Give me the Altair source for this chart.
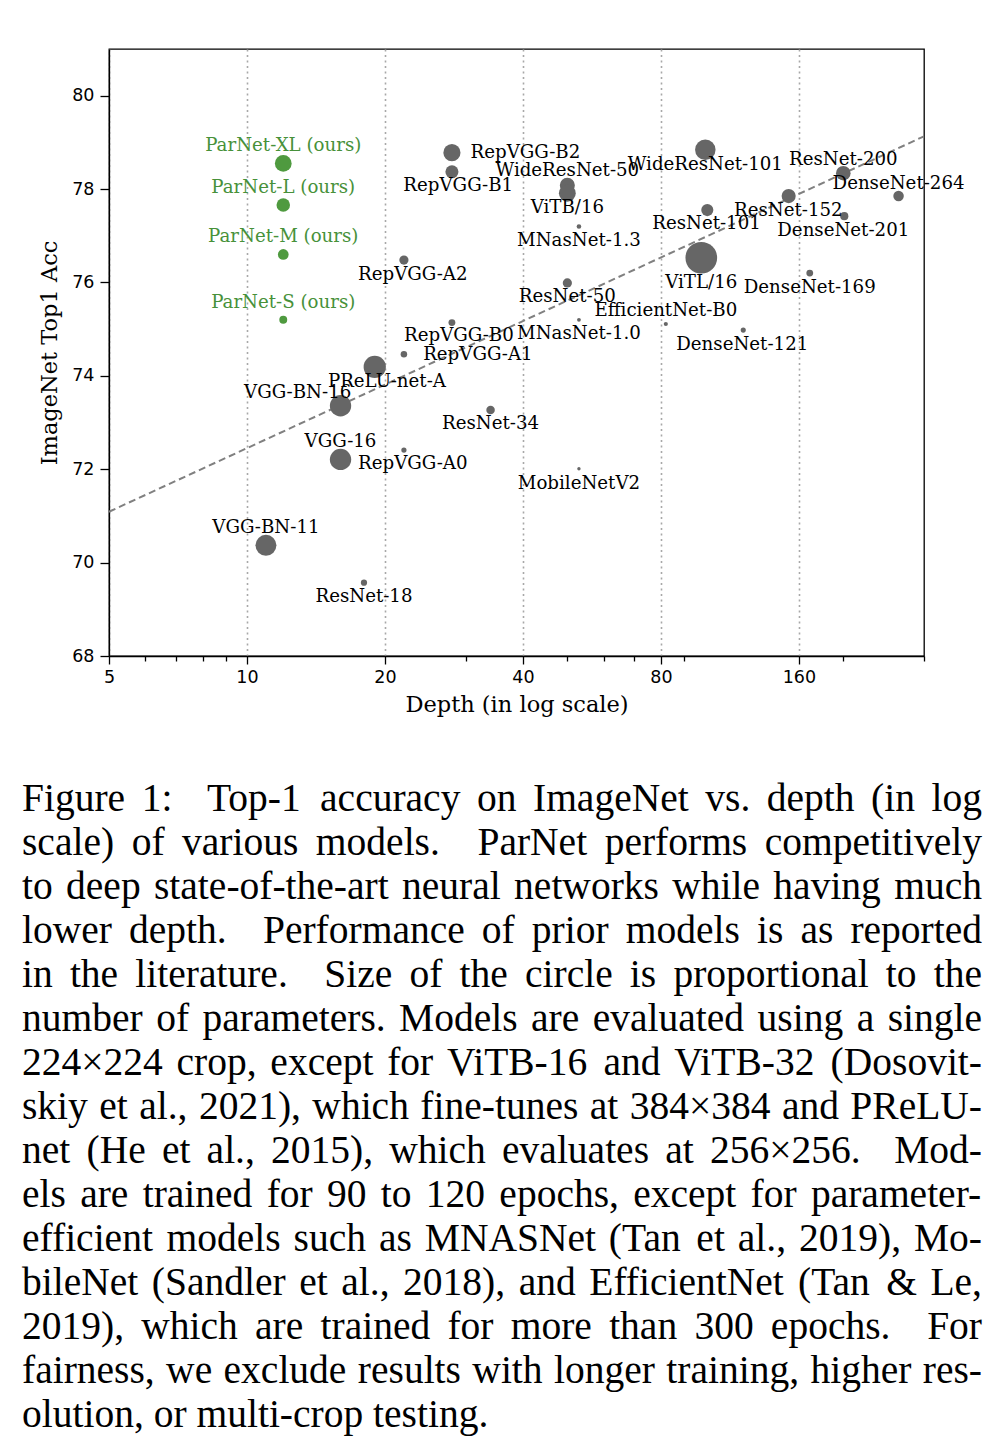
import re
import altair as alt
import pandas as pd

# ---------------- data ----------------
names = ["ParNet-XL (ours)", "ParNet-L (ours)", "ParNet-M (ours)", "ParNet-S (ours)",
         "RepVGG-B2", "RepVGG-B1", "RepVGG-A2", "RepVGG-B0", "RepVGG-A1", "RepVGG-A0",
         "PReLU-net-A", "VGG-BN-16", "VGG-16", "VGG-BN-11",
         "ResNet-18", "ResNet-34", "ResNet-50", "ResNet-101", "ResNet-152", "ResNet-200",
         "WideResNet-50", "WideResNet-101", "ViTB/16", "ViTL/16",
         "MNasNet-1.3", "MNasNet-1.0", "MobileNetV2", "EfficientNet-B0",
         "DenseNet-121", "DenseNet-169", "DenseNet-201", "DenseNet-264"]
depth = [12, 12, 12, 12,
         28, 28, 22, 28, 22, 22,
         19, 16, 16, 11,
         18, 34, 50, 101, 152, 200,
         50, 100, 50, 98,
         53, 53, 53, 82,
         121, 169, 201, 264]
acc = [78.55, 77.66, 76.60, 75.20,
       78.78, 78.37, 76.48, 75.14, 74.46, 72.41,
       74.19, 73.36, 72.21, 70.37,
       69.57, 73.27, 75.99, 77.55, 77.85, 78.34,
       78.08, 78.84, 77.91, 76.53,
       77.20, 75.20, 72.01, 75.11,
       74.98, 76.20, 77.42, 77.85]
params_m = [85, 55, 35, 19,
            89, 51.8, 25.5, 14.3, 12.8, 8.3,
            150, 138, 138, 133,
            11.7, 21.8, 25.6, 44.5, 60.2, 64.7,
            68.9, 126.9, 86, 304,
            6.3, 4.4, 3.5, 5.3,
            8.0, 14.1, 20.0, 33.3]
group = ["ours"] * 4 + ["prior"] * 28
label_depth = [12, 12, 12, 12,
               40.5, 28.9, 23.0, 29.0, 31.9, 23.0,
               20.2, 12.9, 16.0, 11.0,
               18.0, 34.0, 50.0, 100.6, 151.7, 200,
               50.0, 100, 50.0, 98,
               53, 53, 53, 82,
               120.4, 169, 200, 264]
label_acc = [78.92, 78.02, 76.97, 75.56,
             78.77, 78.06, 76.17, 74.85, 74.44, 72.11,
             73.87, 73.64, 72.59, 70.75,
             69.27, 72.96, 75.69, 77.25, 77.53, 78.62,
             78.38, 78.52, 77.60, 75.98,
             76.88, 74.89, 71.69, 75.39,
             74.67, 75.88, 77.10, 78.10]

trend_depth = [5, 300]
trend_acc = [71.09, 79.13]

major_ticks = [5, 10, 20, 40, 80, 160]
minor_ticks = [6, 7, 8, 9, 30, 50, 60, 70, 90, 200, 300]
y_ticks = [68, 70, 72, 74, 76, 78, 80]

# double spaces mark sentence-end gaps
caption_lines = [
    "Figure 1:  Top-1 accuracy on ImageNet vs. depth (in log",
    "scale) of various models.  ParNet performs competitively",
    "to deep state-of-the-art neural networks while having much",
    "lower depth.  Performance of prior models is as reported",
    "in the literature.  Size of the circle is proportional to the",
    "number of parameters. Models are evaluated using a single",
    "224\u00d7224 crop, except for ViTB-16 and ViTB-32 (Dosovit-",
    "skiy et al., 2021), which fine-tunes at 384\u00d7384 and PReLU-",
    "net (He et al., 2015), which evaluates at 256\u00d7256.  Mod-",
    "els are trained for 90 to 120 epochs, except for parameter-",
    "efficient models such as MNASNet (Tan et al., 2019), Mo-",
    "bileNet (Sandler et al., 2018), and EfficientNet (Tan & Le,",
    "2019), which are trained for more than 300 epochs.  For",
    "fairness, we exclude results with longer training, higher res-",
    "olution, or multi-crop testing.",
]

# ---------------- caption layout (justified, Times metrics) ----------------
TIMES_W = {' ': 250, '(': 333, ')': 333, ',': 250, '-': 333, '.': 250, ':': 278, '&': 778,
           '/': 278, '\u00d7': 564}
for ch in "0123456789":
    TIMES_W[ch] = 500
TIMES_W.update(dict(zip("ABCDEFGHIJKLMNOPQRSTUVWXYZ",
                        [722, 667, 667, 722, 611, 556, 722, 722, 333, 389, 722, 611, 889,
                         722, 722, 556, 722, 667, 556, 611, 722, 722, 944, 722, 722, 611])))
TIMES_W.update(dict(zip("abcdefghijklmnopqrstuvwxyz",
                        [444, 500, 444, 500, 444, 333, 500, 500, 278, 278, 500, 278, 778,
                         500, 500, 500, 500, 333, 389, 278, 500, 500, 722, 500, 500, 444])))

CAP_FS = 39.5
CAP_W = 960          # text block width
CAP_X0 = 22 - 109    # left edge relative to plot origin
CAP_Y0 = 811 - 49    # first baseline relative to plot origin
CAP_LH = 44


def text_w(s):
    return sum(TIMES_W.get(c, 500) for c in s) / 1000.0 * CAP_FS


cap_rows = []
for li, line in enumerate(caption_lines):
    parts = re.split(r"( +)", line)
    words, gaps = parts[0::2], parts[1::2]
    ww = [text_w(w) for w in words]
    nat = [0.25 * CAP_FS + (0.12 * CAP_FS if len(g) > 1 else 0) for g in gaps]
    wts = [3 if len(g) > 1 else 1 for g in gaps]
    last = li == len(caption_lines) - 1
    slack = 0 if (last or not gaps) else (CAP_W - sum(ww) - sum(nat))
    x = CAP_X0
    for i, w in enumerate(words):
        cap_rows.append({"word": w, "px": x, "py": CAP_Y0 + li * CAP_LH})
        if i < len(gaps):
            x += ww[i] + nat[i] + slack * wts[i] / sum(wts)
caption = pd.DataFrame(cap_rows)

# ---------------- tables ----------------
pts = pd.DataFrame({"name": names, "depth": depth, "acc": acc, "params": params_m,
                    "group": group, "label_depth": label_depth, "label_acc": label_acc})
trend = pd.DataFrame({"depth": trend_depth, "acc": trend_acc})

GREEN = "#4f9a3f"
GREEN_TXT = "#47913a"
major_test = "indexof(" + str(major_ticks) + ", datum.value) >= 0"

x_scale = alt.Scale(type="log", domain=[5, 300], nice=False)
y_scale = alt.Scale(domain=[68, 81], nice=False, zero=False)

x_axis = alt.Axis(
    values=major_ticks + minor_ticks,
    labelExpr="indexof(" + str(major_ticks) + ", datum.value) >= 0 ? datum.label : ''",
    tickSize={"condition": {"test": major_test, "value": 8}, "value": 5},
    grid=True,
    gridOpacity={"condition": {"test": major_test, "value": 1}, "value": 0},
    gridDash=[2, 3.5], gridColor="#a8a8a8", gridWidth=1.6,
    labelPadding=4, titlePadding=8, labelFlush=False, labelOverlap=False,
)
y_axis = alt.Axis(values=y_ticks, grid=False, tickSize=9, labelPadding=6, titlePadding=10)

XT = "Depth (in log scale)"
YT = "ImageNet Top1 Acc"

line = alt.Chart(trend).mark_line(color="#808080", strokeWidth=2, strokeDash=[7, 4]).encode(
    x=alt.X("depth:Q", scale=x_scale, axis=x_axis, title=XT),
    y=alt.Y("acc:Q", scale=y_scale, axis=y_axis, title=YT),
)

circles = alt.Chart(pts).mark_circle(opacity=1).encode(
    x=alt.X("depth:Q", scale=x_scale, axis=x_axis, title=XT),
    y=alt.Y("acc:Q", scale=y_scale, axis=y_axis, title=YT),
    size=alt.Size("params:Q", scale=alt.Scale(type="linear", domain=[0, 310], range=[0, 1023], zero=True), legend=None),
    color=alt.Color("group:N", scale=alt.Scale(domain=["prior", "ours"], range=["#666666", GREEN]), legend=None),
)

labels = alt.Chart(pts).mark_text(font="DejaVu Serif", fontSize=18.2, align="center", baseline="middle").encode(
    x=alt.X("label_depth:Q", scale=x_scale, axis=x_axis, title=XT),
    y=alt.Y("label_acc:Q", scale=y_scale, axis=y_axis, title=YT),
    text="name:N",
    color=alt.Color("group:N", scale=alt.Scale(domain=["prior", "ours"], range=["#000000", GREEN_TXT]), legend=None),
)

cap = alt.Chart(caption).mark_text(font="Liberation Serif", fontSize=CAP_FS, align="left",
                                   baseline="alphabetic", color="#000000").encode(
    x=alt.X("px:Q", scale=None, axis=None),
    y=alt.Y("py:Q", scale=None, axis=None),
    text="word:N",
)

chart = alt.layer(line, circles, labels, cap).resolve_scale(color="independent").properties(
    width=815, height=607,
    autosize="none",
    padding={"left": 101, "top": 41, "right": 76, "bottom": 784},
).configure_view(stroke="#000000", strokeWidth=1.3).configure_axis(
    domainColor="#000000", domainWidth=1.3, tickColor="#000000", tickWidth=1.3,
    labelFont="DejaVu Sans", labelFontSize=17.5, labelColor="#000000",
    titleFont="DejaVu Serif", titleFontSize=22.5, titleFontWeight="normal", titleColor="#000000",
)

chart.save("out.html", embed_options={"renderer": "svg", "actions": False})
